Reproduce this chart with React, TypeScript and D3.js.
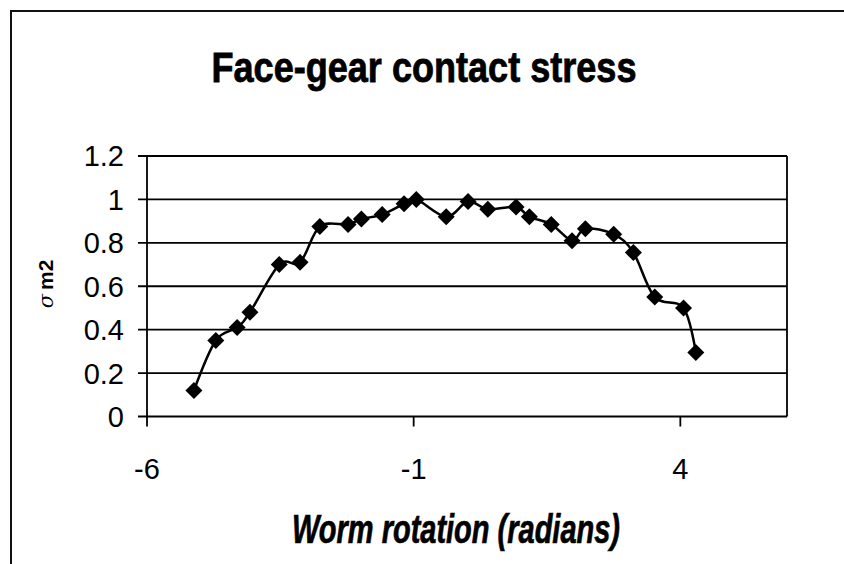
import React from "react";
import * as d3 from "d3";

const xValues = [-5.12, -4.71, -4.31, -4.07, -3.52, -3.13, -2.76, -2.23, -1.98, -1.59, -1.18, -0.95, -0.39, 0.02, 0.39, 0.92, 1.17, 1.58, 1.97, 2.22, 2.75, 3.12, 3.52, 4.06, 4.29];
const yValues = [0.12, 0.35, 0.41, 0.48, 0.7, 0.71, 0.875, 0.885, 0.91, 0.93, 0.98, 1.0, 0.92, 0.99, 0.955, 0.965, 0.92, 0.885, 0.81, 0.865, 0.84, 0.755, 0.55, 0.5, 0.295];
const xTicks = [-6, -1, 4];
const yTicks = [0, 0.2, 0.4, 0.6, 0.8, 1, 1.2];
const title = "Face-gear contact stress";
const xLabel = "Worm rotation (radians)";

export default function App() {
  const W = 844, H = 564;
  const left = 147, right = 787, top = 156, bottom = 416.5;
  const x = d3.scaleLinear().domain([-6, 6]).range([left, right]);
  const y = d3.scaleLinear().domain([0, 1.2]).range([bottom, top]);
  const pts = xValues.map((v, i) => [v, yValues[i]] as [number, number]);
  const line = d3
    .line<[number, number]>()
    .x((d) => x(d[0]))
    .y((d) => y(d[1]))
    .curve(d3.curveCardinal.tension(0));
  const r = 8.5;
  const diamond = `M0,${-r}L${r},0L0,${r}L${-r},0Z`;
  const font = "'Liberation Sans', Arial, sans-serif";
  return (
    <svg width={W} height={H} style={{ position: "absolute", left: 0, top: 0, background: "#fff" }} fontFamily={font}>
      <rect x={0} y={0} width={W} height={H} fill="#fff" />
      <rect x={11} y={11} width={1000} height={1000} fill="none" stroke="#111" strokeWidth={2} />
      <text x={424} y={82} textAnchor="middle" fontWeight="bold" fontSize={42} textLength={425} lengthAdjust="spacingAndGlyphs" stroke="#000" strokeWidth={0.8}>
        {title}
      </text>
      {yTicks.map((t) => (
        <g key={t}>
          <line x1={left - 9} x2={right} y1={y(t)} y2={y(t)} stroke="#000" strokeWidth={1.8} />
          <text x={124} y={y(t)} dy="0.36em" textAnchor="end" fontSize={29}>
            {d3.format("")(t)}
          </text>
        </g>
      ))}
      <line x1={left} x2={left} y1={top} y2={bottom} stroke="#000" strokeWidth={1.8} />
      <line x1={right} x2={right} y1={top} y2={bottom} stroke="#000" strokeWidth={1.8} />
      {xTicks.map((t) => (
        <g key={t}>
          <line x1={x(t)} x2={x(t)} y1={bottom} y2={bottom + 10} stroke="#000" strokeWidth={1.8} />
          <text x={x(t)} y={479} textAnchor="middle" fontSize={29}>
            {t}
          </text>
        </g>
      ))}
      <path d={line(pts) || ""} fill="none" stroke="#000" strokeWidth={2.5} />
      {pts.map((p, i) => (
        <path key={i} d={diamond} transform={`translate(${x(p[0])},${y(p[1])})`} fill="#000" />
      ))}
      <text x={292} y={543} fontWeight="bold" fontStyle="italic" fontSize={41} textLength={328} lengthAdjust="spacingAndGlyphs" stroke="#000" strokeWidth={0.7}>
        {xLabel}
      </text>
      <text transform="translate(53,284) rotate(-90)" textAnchor="middle" fontSize={21}>
        <tspan fontFamily="'DejaVu Serif', serif" fontStyle="italic">σ</tspan>
        <tspan fontWeight="bold" dx={4}>m2</tspan>
      </text>
    </svg>
  );
}
